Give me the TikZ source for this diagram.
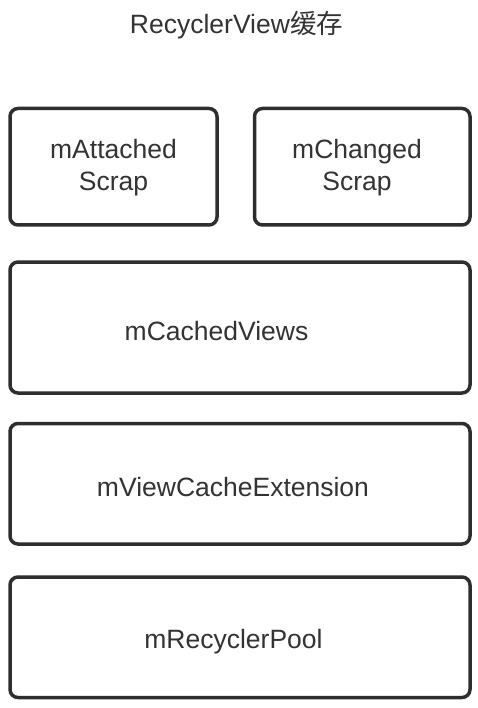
\documentclass[tikz,border=0pt]{standalone}
\usepackage{fontspec}
\setmainfont{Liberation Sans}
\newfontfamily\cjk{Noto Sans CJK SC}
\definecolor{boxc}{HTML}{2E2E2E}
\definecolor{txtc}{HTML}{333333}
\begin{document}
\begin{tikzpicture}[x=1pt,y=-1pt,
  cachebox/.style={draw=boxc, line width=3.5pt, rounded corners=8pt, fill=white, inner sep=0pt, outer sep=0pt},
  lbl/.style={text=txtc, font=\fontsize{26.5}{32}\selectfont, inner sep=0pt, align=center}]
\useasboundingbox[fill=white] (0,0) rectangle (478,708);
\node[cachebox, minimum width=207pt, minimum height=116.5pt] (attached) at (113.5,166.75) {};
\node[cachebox, minimum width=215.5pt, minimum height=116.5pt] (changed) at (362.25,166.75) {};
\node[cachebox, minimum width=460pt, minimum height=131pt] (cached) at (240,327.5) {};
\node[cachebox, minimum width=460pt, minimum height=120.5pt] (ext) at (240,483.75) {};
\node[cachebox, minimum width=460pt, minimum height=120.5pt] (pool) at (240,637.25) {};
\node[lbl, anchor=base] (title) at (236.5,34) {RecyclerView{\cjk 缓存}};
\node[lbl] (attachedtxt) at (113.5,167.5) {mAttached\\Scrap};
\node[lbl] (changedtxt) at (357,167.5) {mChanged\\Scrap};
\node[lbl, anchor=base] (cachedtxt) at (216.5,340) {mCachedViews};
\node[lbl, anchor=base] (exttxt) at (233,496) {mViewCacheExtension};
\node[lbl, anchor=base] (pooltxt) at (233.5,648) {mRecyclerPool};
\end{tikzpicture}
\end{document}
